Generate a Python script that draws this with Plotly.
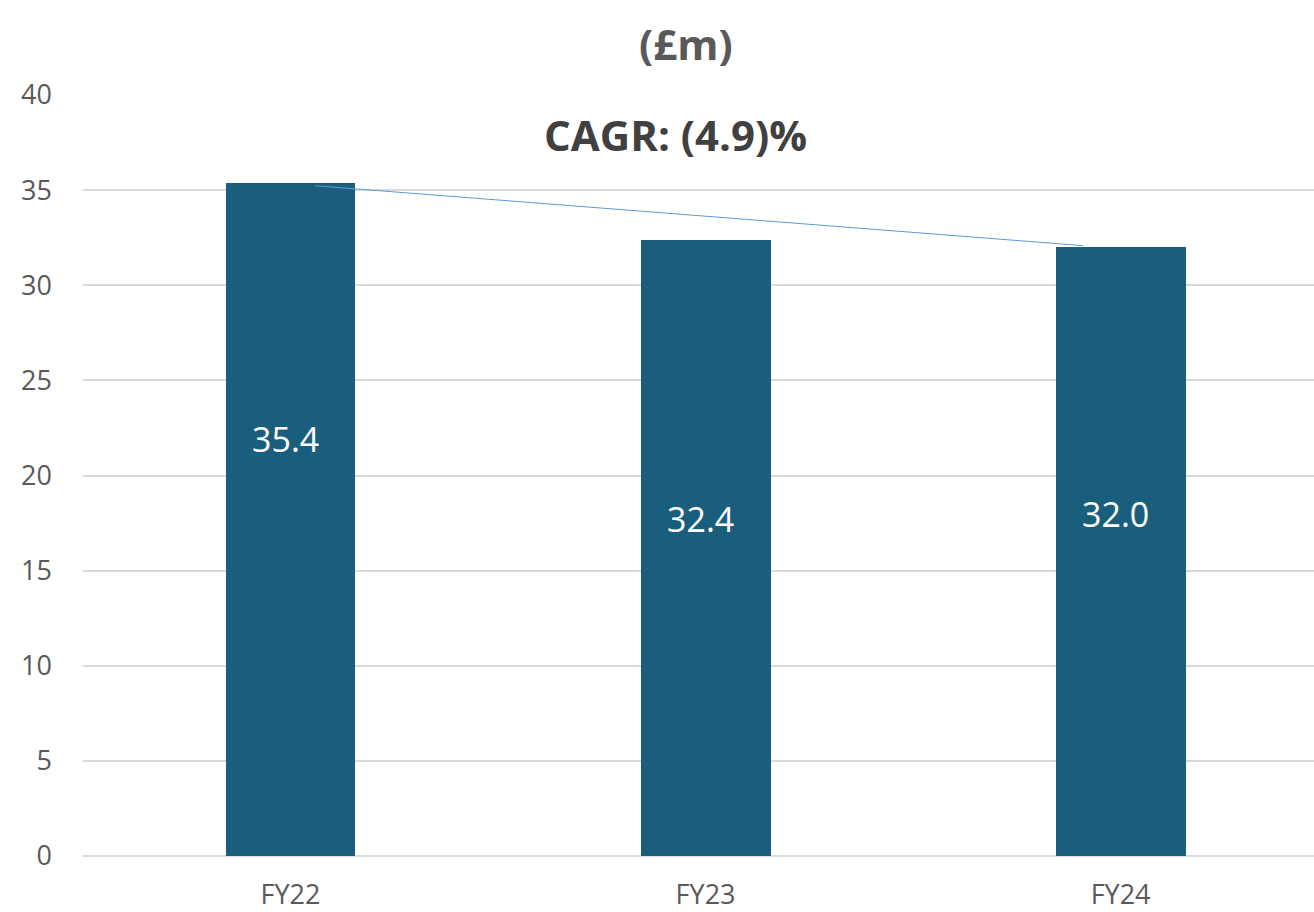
import plotly.graph_objects as go

# Revenue by financial year (£m)
categories = ["FY22", "FY23", "FY24"]
values = [35.4, 32.4, 32.0]
label_text = ["35.4", "32.4", "32.0"]
label_y = [21.9, 17.7, 18.0]

# CAGR connector between the first and last bar tops
trend_x = [0.06, 1.91]
trend_y = [35.23, 32.08]

y_ticks = [0, 5, 10, 15, 20, 25, 30, 35, 40]

BAR = "#1A5E7E"
FONT = "Open Sans, Lato, sans-serif"

W, H = 1314, 912
L, R, T, B = 83, 0, 95, 54
pw, ph = W - L - R, H - T - B


def px_to_paper(px, py):
    return (px - L) / pw, (H - B - py) / ph


pos = list(range(len(categories)))

fig = go.Figure()
fig.add_trace(go.Bar(
    x=pos, y=values, width=0.313, marker=dict(color=BAR, line=dict(width=0)),
    hoverinfo="skip", showlegend=False,
))
fig.add_trace(go.Scatter(
    x=trend_x, y=trend_y, mode="lines",
    line=dict(color="#5B9BD5", width=1), showlegend=False, hoverinfo="skip",
))

for xi, yi, t in zip(pos, label_y, label_text):
    fig.add_annotation(x=xi, y=yi, text=t, showarrow=False, xshift=-5,
                       font=dict(family=FONT, size=34, color="white"))

tx, ty = px_to_paper(686, 43)
fig.add_annotation(x=tx, y=ty, xref="paper", yref="paper", text="<b>(£m)</b>",
                   xanchor="center", yanchor="middle", showarrow=False,
                   font=dict(family=FONT, size=42, color="#595959"))
cx, cy = px_to_paper(675, 135)
fig.add_annotation(x=cx, y=cy, xref="paper", yref="paper", text="<b>CAGR: (4.9)%</b>",
                   xanchor="center", yanchor="middle", showarrow=False,
                   font=dict(family=FONT, size=42, color="#404040"))

fig.update_layout(
    width=W, height=H,
    margin=dict(l=L, r=R, t=T, b=B),
    plot_bgcolor="white", paper_bgcolor="white",
    bargap=0,
    xaxis=dict(
        range=[-0.5, 2.466], tickmode="array", tickvals=pos, ticktext=categories,
        showgrid=False, zeroline=False, showline=False, ticks="",
        tickfont=dict(family=FONT, size=27, color="#595959"),
        ticklabelstandoff=20,
    ),
    yaxis=dict(
        range=[0, 40], tickmode="array", tickvals=y_ticks,
        showgrid=True, gridcolor="#D9D9D9", gridwidth=1.5,
        zeroline=True, zerolinecolor="#D9D9D9", zerolinewidth=1.5,
        showline=False, ticks="",
        tickfont=dict(family=FONT, size=27, color="#595959"),
        ticklabelstandoff=30,
    ),
)

fig.write_html("out.html")
